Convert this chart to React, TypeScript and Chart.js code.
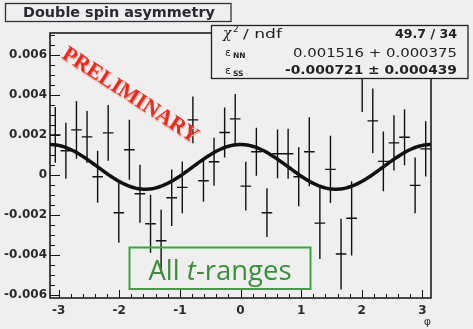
import React, { useEffect, useRef } from 'react';
import { Chart, registerables } from 'chart.js';

Chart.register(...registerables);

// ---- data ----
const N_BINS = 36;
const PHI_MIN = -Math.PI;
const PHI_MAX = Math.PI;
const ASYM = [
  0.0020, 0.0012, 0.00225, 0.0019, -0.0001, 0.0021, -0.0019, 0.00125, -0.00095, -0.00245,
  -0.0033, -0.00115, -0.00063, 0.00275, -0.0003, 0.00065, 0.00212, 0.0028, -0.00057, 0.00115,
  -0.0019, 0.00105, 0.00105, -0.0001, 0.00115, -0.00242, 0.00027, -0.00397, -0.00218, 0.00495,
  0.0027, 0.00067, 0.0016, 0.00188, -0.00053, 0.0013,
];
const ASYM_ERR = [
  0.0014, 0.0014, 0.00145, 0.0013, 0.0013, 0.0014, 0.0015, 0.0015, 0.00145, 0.00145,
  0.00155, 0.00142, 0.0013, 0.00117, 0.00105, 0.0012, 0.00125, 0.00125, 0.00122, 0.0012,
  0.00122, 0.00122, 0.00125, 0.00148, 0.00173, 0.0018, 0.00168, 0.00177, 0.00186, 0.0018,
  0.00162, 0.0015, 0.00138, 0.0014, 0.0014, 0.00138,
];
const X_TICKS = [-3, -2, -1, 0, 1, 2, 3];
const Y_TICKS = [-0.006, -0.004, -0.002, 0, 0.002, 0.004, 0.006];
const Y_MIN = -0.00617;
const Y_MAX = 0.0071;

// fit results shown in the stat box
const CHI2 = 49.7;
const NDF = 34;
const EPS_NN = 0.001516;
const EPS_NN_ERR = 0.000375;
const EPS_SS = -0.000721;
const EPS_SS_ERR = 0.000439;

const BIN_W = (PHI_MAX - PHI_MIN) / N_BINS;
const BIN_CENTERS = ASYM.map((_, i) => PHI_MIN + (i + 0.5) * BIN_W);

// fit function: eNN cos^2(phi) + eSS sin^2(phi)
const FIT_N = 241;
const FIT_POINTS = Array.from({ length: FIT_N }, (_, i) => {
  const phi = PHI_MIN + (i * (PHI_MAX - PHI_MIN)) / (FIT_N - 1);
  const c = Math.cos(phi);
  const s = Math.sin(phi);
  return { x: phi, y: EPS_NN * c * c + EPS_SS * s * s };
});

const BG = '#efefef';

const histPlugin = {
  id: 'histPlugin',
  beforeDatasetsDraw(chart: any) {
    const { ctx, chartArea } = chart;
    const xs = chart.scales.x;
    const ys = chart.scales.y;
    ctx.save();
    ctx.beginPath();
    ctx.rect(chartArea.left, chartArea.top, chartArea.right - chartArea.left, chartArea.bottom - chartArea.top);
    ctx.clip();
    ctx.strokeStyle = '#111';
    ctx.lineWidth = 1.4;
    for (let i = 0; i < ASYM.length; i++) {
      const cx = xs.getPixelForValue(BIN_CENTERS[i]);
      const x0 = xs.getPixelForValue(BIN_CENTERS[i] - BIN_W / 2);
      const x1 = xs.getPixelForValue(BIN_CENTERS[i] + BIN_W / 2);
      const y = ys.getPixelForValue(ASYM[i]);
      const yt = ys.getPixelForValue(ASYM[i] + ASYM_ERR[i]);
      const yb = ys.getPixelForValue(ASYM[i] - ASYM_ERR[i]);
      ctx.beginPath();
      ctx.moveTo(cx, yt);
      ctx.lineTo(cx, yb);
      ctx.moveTo(x0, y);
      ctx.lineTo(x1, y);
      ctx.stroke();
    }
    ctx.restore();
  },
  afterDatasetsDraw(chart: any) {
    const { ctx, chartArea } = chart;
    const xs = chart.scales.x;
    const ys = chart.scales.y;
    ctx.save();
    ctx.strokeStyle = '#111';
    ctx.lineWidth = 1;
    ctx.beginPath();
    // y ticks (inside)
    for (let k = Math.ceil(Y_MIN / 0.0005); k <= Math.floor(Y_MAX / 0.0005); k++) {
      const v = k * 0.0005;
      const py = Math.round(ys.getPixelForValue(v)) + 0.5;
      const major = k % 4 === 0;
      ctx.moveTo(chartArea.left, py);
      ctx.lineTo(chartArea.left + (major ? 10 : 5), py);
    }
    // x ticks (inside)
    for (let k = Math.ceil(PHI_MIN / 0.2); k <= Math.floor(PHI_MAX / 0.2); k++) {
      const v = k * 0.2;
      const px = Math.round(xs.getPixelForValue(v)) + 0.5;
      const major = k % 5 === 0;
      ctx.moveTo(px, chartArea.bottom);
      ctx.lineTo(px, chartArea.bottom - (major ? 8 : 4));
    }
    ctx.stroke();
    // frame
    ctx.lineWidth = 1.5;
    ctx.strokeRect(chartArea.left, chartArea.top, chartArea.right - chartArea.left, chartArea.bottom - chartArea.top);
    ctx.restore();
  },
};

export default function App() {
  const canvasRef = useRef<HTMLCanvasElement | null>(null);

  useEffect(() => {
    if (!canvasRef.current) return;
    const chart = new Chart(canvasRef.current, {
      type: 'scatter',
      data: {
        datasets: [
          {
            label: 'asymmetry',
            data: BIN_CENTERS.map((x, i) => ({ x, y: ASYM[i] })),
            pointRadius: 0,
            showLine: false,
          },
          {
            label: 'fit',
            data: FIT_POINTS,
            showLine: true,
            pointRadius: 0,
            borderColor: '#111',
            borderWidth: 3.5,
            tension: 0,
          },
        ],
      },
      options: {
        animation: false,
        responsive: false,
        devicePixelRatio: 1,
        layout: { padding: { left: 0, top: 33, right: 42, bottom: 0 } },
        plugins: { legend: { display: false }, tooltip: { enabled: false }, title: { display: false } },
        scales: {
          x: {
            type: 'linear',
            min: PHI_MIN,
            max: PHI_MAX,
            grid: { display: false, drawTicks: false },
            border: { display: false },
            afterBuildTicks: (axis: any) => {
              axis.ticks = X_TICKS.map((v) => ({ value: v }));
            },
            afterFit: (s: any) => {
              s.height = 31;
            },
            ticks: {
              padding: 6,
              color: '#2a2a2a',
              font: { family: 'DejaVu Sans', weight: 'bold', size: 12 },
              callback: (v: any) => String(v),
              maxRotation: 0,
            },
            title: {
              display: true,
              text: 'φ',
              align: 'end',
              color: '#333',
              font: { family: 'DejaVu Sans', size: 11 },
              padding: { top: 0, bottom: 0 },
            },
          },
          y: {
            type: 'linear',
            min: Y_MIN,
            max: Y_MAX,
            grid: { display: false, drawTicks: false },
            border: { display: false },
            afterBuildTicks: (axis: any) => {
              axis.ticks = Y_TICKS.map((v) => ({ value: v }));
            },
            afterFit: (s: any) => {
              s.width = 50;
            },
            ticks: {
              padding: 3,
              color: '#2a2a2a',
              font: { family: 'DejaVu Sans', weight: 'bold', size: 12 },
              callback: (v: any) => (Math.abs(v) < 1e-9 ? '0' : Number(v).toFixed(3)),
            },
          },
        },
      },
      plugins: [histPlugin],
    } as any);
    return () => chart.destroy();
  }, []);

  return (
    <div style={{ position: 'absolute', left: 0, top: 0, width: 473, height: 329, background: BG, overflow: 'hidden' }}>
      <canvas ref={canvasRef} width={473} height={329} style={{ position: 'absolute', left: 0, top: 0 }} />
      <svg width={473} height={329} style={{ position: 'absolute', left: 0, top: 0 }}>
        {/* title box */}
        <rect x={5.5} y={3.5} width={225.5} height={18} fill={BG} stroke="#333" strokeWidth={1.3} />
        <text x={23} y={17} fontFamily="DejaVu Sans" fontWeight="bold" fontSize={14} fill="#2a2a35"
          textLength={192} lengthAdjust="spacingAndGlyphs">Double spin asymmetry</text>

        {/* stat box */}
        <rect x={211.5} y={25.5} width={256.5} height={53} fill={BG} stroke="#222" strokeWidth={1.3} />
        <text x={223} y={38} fontFamily="DejaVu Serif" fontStyle="italic" fontSize={14} fill="#222">χ</text>
        <text x={233} y={32} fontFamily="DejaVu Sans" fontSize={9} fill="#222">2</text>
        <text x={243} y={38} fontFamily="DejaVu Sans" fontSize={13} fill="#222"
          textLength={39} lengthAdjust="spacingAndGlyphs">/ ndf</text>
        <text x={395} y={37.5} fontFamily="DejaVu Sans" fontWeight="bold" fontSize={12.5} fill="#222"
          textLength={62} lengthAdjust="spacingAndGlyphs">{`${CHI2} / ${NDF}`}</text>

        <text x={225} y={55.5} fontFamily="DejaVu Sans" fontSize={11} fill="#222">ε</text>
        <text x={233} y={57.5} fontFamily="DejaVu Sans" fontWeight="bold" fontSize={7.5} fill="#222">NN</text>
        <text x={293} y={56.7} fontFamily="DejaVu Sans" fontSize={12.5} fill="#222"
          textLength={164} lengthAdjust="spacingAndGlyphs">{`${EPS_NN.toFixed(6)} + ${EPS_NN_ERR.toFixed(6)}`}</text>

        <text x={225} y={73.5} fontFamily="DejaVu Sans" fontSize={11} fill="#222">ε</text>
        <text x={233} y={75.5} fontFamily="DejaVu Sans" fontWeight="bold" fontSize={7.5} fill="#222">SS</text>
        <text x={285} y={74} fontFamily="DejaVu Sans" fontWeight="bold" fontSize={12.5} fill="#222"
          textLength={172} lengthAdjust="spacingAndGlyphs">{`${EPS_SS.toFixed(6)} ± ${EPS_SS_ERR.toFixed(6)}`}</text>

        {/* PRELIMINARY stamp */}
        <g transform="translate(131 94) rotate(33)">
          <text x={1.2} y={1.2} textAnchor="middle" dominantBaseline="central" fontFamily="Liberation Serif"
            fontWeight="bold" fontSize={22} fill="#f5b0a8" textLength={158} lengthAdjust="spacingAndGlyphs">PRELIMINARY</text>
          <text x={0} y={0} textAnchor="middle" dominantBaseline="central" fontFamily="Liberation Serif"
            fontWeight="bold" fontSize={22} fill="#ee2a1c" textLength={158} lengthAdjust="spacingAndGlyphs">PRELIMINARY</text>
        </g>

        {/* All t-ranges box */}
        <rect x={129.5} y={247.5} width={181} height={41.5} fill="none" stroke="#3aa53a" strokeWidth={2} />
        <text x={220} y={280} textAnchor="middle" fontFamily="Open Sans" fontSize={27.5} fill="#3a8f3a">
          All <tspan fontStyle="italic">t</tspan>-ranges
        </text>
      </svg>
    </div>
  );
}
